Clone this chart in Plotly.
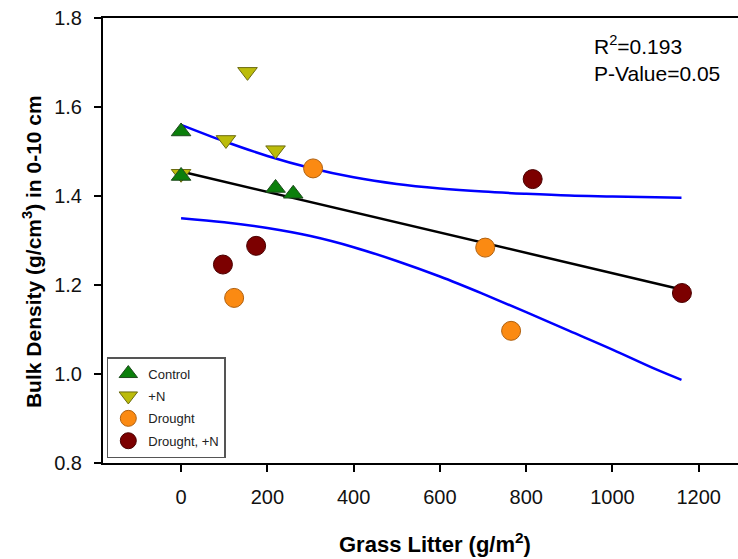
import plotly.graph_objects as go

# ---- data ----
control_x = [0, 0, 219, 260]
control_y = [1.545, 1.445, 1.418, 1.405]

n_x = [0, 154, 104, 219]
n_y = [1.45, 1.679, 1.526, 1.503]

drought_x = [306, 705, 123, 765]
drought_y = [1.462, 1.284, 1.171, 1.097]

dn_x = [815, 1161, 97, 174]
dn_y = [1.438, 1.182, 1.246, 1.288]

fit_x = [0, 1160]
fit_y = [1.455, 1.190]

band_x = [0, 100, 200, 300, 400, 500, 600, 700, 800, 900, 1000, 1100, 1160]
upper_y = [1.560, 1.523, 1.490, 1.463, 1.442, 1.427, 1.417, 1.410, 1.405, 1.401, 1.399, 1.397, 1.396]
lower_y = [1.350, 1.341, 1.328, 1.310, 1.285, 1.254, 1.219, 1.180, 1.139, 1.097, 1.055, 1.011, 0.987]

x_ticks = [0, 200, 400, 600, 800, 1000, 1200]
y_ticks = [0.8, 1.0, 1.2, 1.4, 1.6, 1.8]

FONT = "Liberation Sans, Arial, sans-serif"

fig = go.Figure()

fig.add_trace(go.Scatter(x=band_x, y=upper_y, mode="lines", line=dict(color="#0000ff", width=2.5, shape="spline"),
                         showlegend=False, hoverinfo="skip"))
fig.add_trace(go.Scatter(x=band_x, y=lower_y, mode="lines", line=dict(color="#0000ff", width=2.5, shape="spline"),
                         showlegend=False, hoverinfo="skip"))
fig.add_trace(go.Scatter(x=fit_x, y=fit_y, mode="lines", line=dict(color="#000000", width=2.5),
                         showlegend=False, hoverinfo="skip"))

fig.add_trace(go.Scatter(x=n_x, y=n_y, mode="markers", name="+N", legendrank=2, legendgroup="g2",
                         marker=dict(symbol="triangle-down", size=17, color="#bcbc0a",
                                     line=dict(color="#6b6b10", width=1))))
fig.add_trace(go.Scatter(x=control_x, y=control_y, mode="markers", name="Control", legendrank=1, legendgroup="g1",
                         marker=dict(symbol="triangle-up", size=17, color="#0b7f0b",
                                     line=dict(color="#1e4a1e", width=1))))
fig.add_trace(go.Scatter(x=drought_x, y=drought_y, mode="markers", name="Drought", legendrank=3, legendgroup="g3",
                         marker=dict(symbol="circle", size=19, color="#fb8a12",
                                     line=dict(color="#b0600e", width=1))))
fig.add_trace(go.Scatter(x=dn_x, y=dn_y, mode="markers", name="Drought, +N", legendrank=4, legendgroup="g4",
                         marker=dict(symbol="circle", size=19, color="#7c0000",
                                     line=dict(color="#4a0000", width=1))))

fig.update_layout(
    width=738, height=559,
    margin=dict(l=103, r=0, t=18, b=96),
    paper_bgcolor="white", plot_bgcolor="white",
    font=dict(family=FONT, color="#000000"),
    legend=dict(x=0.006, y=0.238, xanchor="left", yanchor="top",
                bordercolor="#555555", borderwidth=1.5, bgcolor="white",
                font=dict(size=13, family=FONT, color="#222222"),
                itemsizing="trace", tracegroupgap=2.5),
    annotations=[
        dict(text="R<sup>2</sup>=0.193<br>P-Value=0.05", xref="paper", yref="paper",
             x=0.770, y=0.973, xanchor="left", yanchor="top", align="left", showarrow=False,
             font=dict(size=21, family=FONT, color="#000000")),
        dict(text="<b>Grass Litter (g/m<sup>2</sup>)</b>", xref="paper", yref="paper",
             x=0.523, y=-0.18, xanchor="center", yanchor="middle", showarrow=False,
             font=dict(size=22, family=FONT, color="#000000")),
        dict(text="<b>Bulk Density (g/cm<sup>3</sup>) in 0-10 cm</b>", xref="paper", yref="paper",
             x=-0.112, y=0.476, xanchor="center", yanchor="middle", textangle=-90, showarrow=False,
             font=dict(size=21, family=FONT, color="#000000")),
    ],
)

fig.update_xaxes(range=[-181, 1291], tickvals=x_ticks, showgrid=False, zeroline=False,
                 showline=True, linecolor="black", linewidth=2, mirror=True,
                 ticks="outside", ticklen=7, tickwidth=1.5, tickcolor="black",
                 tickfont=dict(size=20, family=FONT, color="#111111"), ticklabelstandoff=8)
fig.update_yaxes(range=[0.8, 1.8], tickvals=y_ticks, tickformat=".1f", showgrid=False, zeroline=False,
                 showline=True, linecolor="black", linewidth=2, mirror=False,
                 ticks="outside", ticklen=7, tickwidth=1.5, tickcolor="black",
                 tickfont=dict(size=20, family=FONT, color="#111111"), ticklabelstandoff=8)

fig.write_html("out.html")
